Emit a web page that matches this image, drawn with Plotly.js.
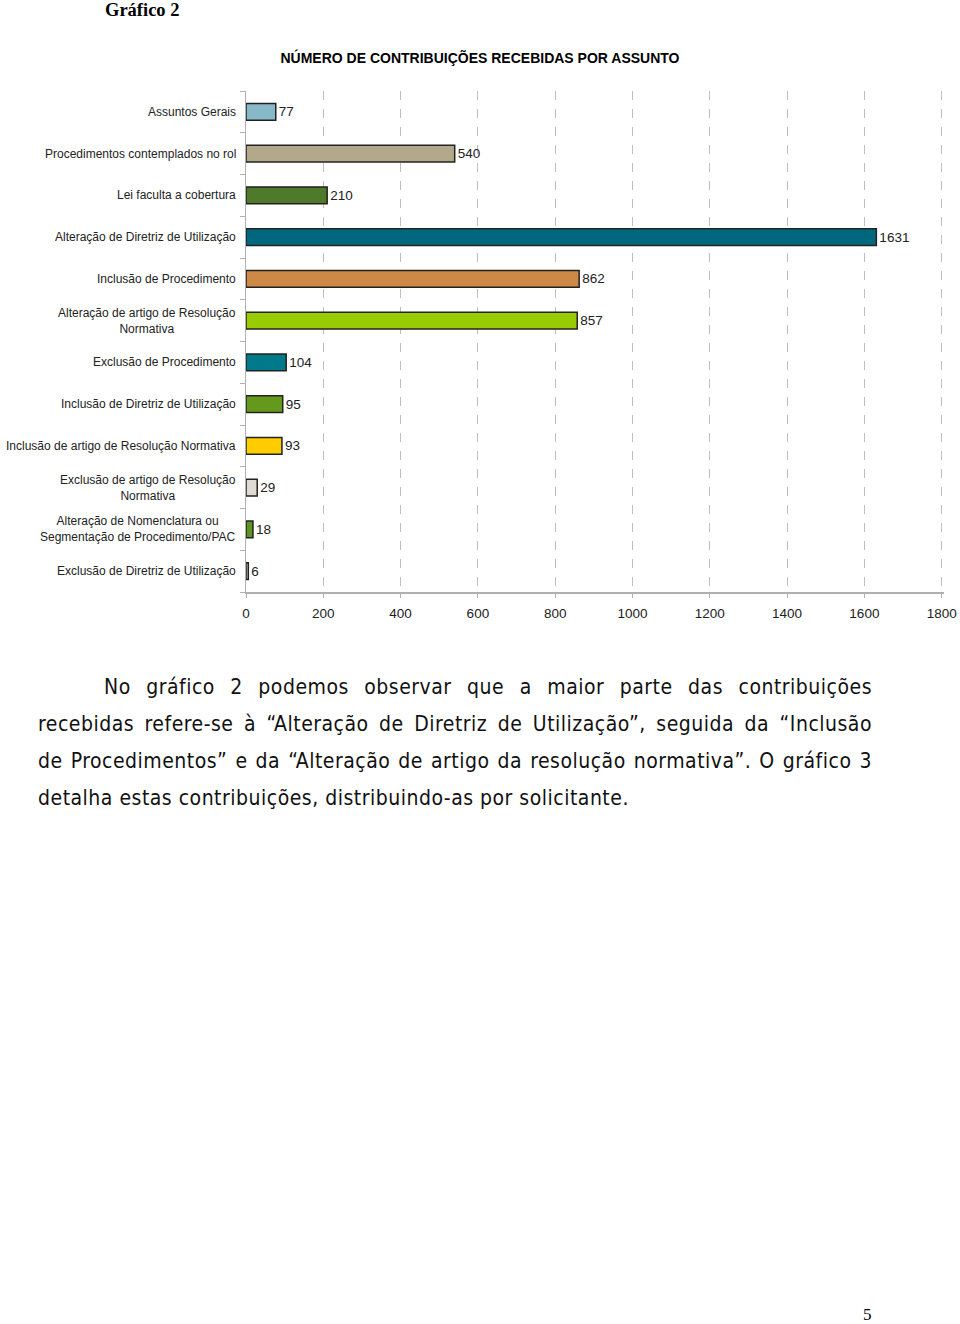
<!DOCTYPE html>
<html>
<head>
<meta charset="utf-8">
<script src="https://cdn.plot.ly/plotly-3.0.1.min.js"></script>
<style>
  html, body { margin: 0; padding: 0; background: #fff; }
  #wrap { position: relative; width: 960px; height: 1324px; overflow: hidden; }
  #chart { position: absolute; left: 0; top: 0; width: 960px; height: 1324px; }
  #para { position: absolute; left: 38px; top: 669px; width: 834px;
          font-family: "Liberation Sans Narrow", "DejaVu Sans Condensed", "Liberation Sans", sans-serif;
          font-size: 21px; color: #111; letter-spacing: 0.5px; }
  #para div { height: 37px; line-height: 37px; white-space: nowrap; }
  #para .j { text-align: justify; text-align-last: justify; }
</style>
</head>
<body>
<div id="wrap">
  <div id="chart"></div>
  <div id="para">
    <div class="j" style="padding-left:66px">No gráfico 2 podemos observar que a maior parte das contribuições</div>
    <div class="j">recebidas refere-se à “Alteração de Diretriz de Utilização”, seguida da “Inclusão</div>
    <div class="j">de Procedimentos” e da “Alteração de artigo da resolução normativa”. O gráfico 3</div>
    <div>detalha estas contribuições, distribuindo-as por solicitante.</div>
  </div>
</div>
<script>
const categories = [
  "Assuntos Gerais",
  "Procedimentos contemplados no rol",
  "Lei faculta a cobertura",
  "Alteração de Diretriz de Utilização",
  "Inclusão de Procedimento",
  "Alteração de artigo de Resolução<br>Normativa",
  "Exclusão de Procedimento",
  "Inclusão de Diretriz de Utilização",
  "Inclusão de artigo de Resolução Normativa",
  "Exclusão de artigo de Resolução<br>Normativa",
  "Alteração de Nomenclatura ou<br>Segmentação de Procedimento/PAC",
  "Exclusão de Diretriz de Utilização"
];
const values = [77, 540, 210, 1631, 862, 857, 104, 95, 93, 29, 18, 6];
const barColors = [
  "#87b9c9", "#b3a98a", "#4e7a2a", "#00687e", "#cd8945", "#99cc00",
  "#00798a", "#64991c", "#ffcc00", "#dddbd2", "#5f9422", "#c4c4c4"
];
const xTickVals = [0, 200, 400, 600, 800, 1000, 1200, 1400, 1600, 1800];
const chartTitle = "NÚMERO DE CONTRIBUIÇÕES RECEBIDAS POR ASSUNTO";
const headerText = "Gráfico 2";
const pageNumber = "5";

const idx = categories.map((c, i) => i);

const trace = {
  type: "bar",
  orientation: "h",
  x: values,
  y: idx,
  width: 0.4,
  marker: { color: barColors, line: { color: "#222", width: 1.5 } },
  text: values.map(String),
  textposition: "outside",
  textfont: { family: "Liberation Sans, Arial, sans-serif", size: 13.5, color: "#222" },
  cliponaxis: false,
  hoverinfo: "none"
};

const labelAnns = categories.map((c, i) => ({
  x: 0, xref: "x", y: i, yref: "y",
  xanchor: "right", yanchor: "middle", xshift: -8,
  text: c, align: "center", showarrow: false,
  font: { family: "Liberation Sans, Arial, sans-serif", size: 12, color: "#222" }
}));

const W = 960, H = 1324, L = 246, R = 16, T = 91, B = 1324 - 592;
const pw = W - L - R, ph = H - T - B;
const px2paperX = px => (px - L) / pw;
const px2paperY = py => (H - B - py) / ph;

labelAnns.push({
  xref: "paper", yref: "paper", x: px2paperX(103), y: px2paperY(10),
  xanchor: "left", yanchor: "middle", showarrow: false, text: "<b>" + headerText + "</b>",
  font: { family: "Liberation Serif, Times New Roman, serif", size: 18.5, color: "#000" }
});
labelAnns.push({
  xref: "paper", yref: "paper", x: px2paperX(867), y: px2paperY(1315),
  xanchor: "center", yanchor: "middle", showarrow: false, text: pageNumber,
  font: { family: "Liberation Serif, Times New Roman, serif", size: 17, color: "#000" }
});

const layout = {
  width: W, height: H,
  margin: { l: L, r: R, t: T, b: B, pad: 0 },
  paper_bgcolor: "#fff", plot_bgcolor: "#fff",
  showlegend: false,
  title: {
    text: "<b>" + chartTitle + "</b>",
    x: 0.5, xref: "container", y: 1 - 58 / H, yref: "container", yanchor: "middle",
    font: { family: "Liberation Sans, Arial, sans-serif", size: 14, color: "#000" }
  },
  xaxis: {
    range: [0, 1806], tickvals: xTickVals, ticktext: xTickVals.map(String),
    showgrid: true, gridcolor: "#bdbdbd", griddash: "dash", gridwidth: 1,
    zeroline: false, showline: true, linecolor: "#b0b0b0", linewidth: 1.5,
    ticks: "outside", ticklen: 4, tickcolor: "#b0b0b0", ticklabelstandoff: 4,
    tickfont: { family: "Liberation Sans, Arial, sans-serif", size: 13.5, color: "#222" },
    fixedrange: true
  },
  yaxis: {
    type: "linear", range: [11.5, -0.5], tickmode: "array",
    tickvals: [-0.5, 0.5, 1.5, 2.5, 3.5, 4.5, 5.5, 6.5, 7.5, 8.5, 9.5, 10.5, 11.5],
    showticklabels: false, showgrid: false, zeroline: false,
    showline: true, linecolor: "#b0b0b0", linewidth: 1.5,
    ticks: "outside", ticklen: 5, tickcolor: "#b0b0b0",
    fixedrange: true
  },
  annotations: labelAnns
};

Plotly.newPlot("chart", [trace], layout, { staticPlot: true, displayModeBar: false });
</script>
</body>
</html>
